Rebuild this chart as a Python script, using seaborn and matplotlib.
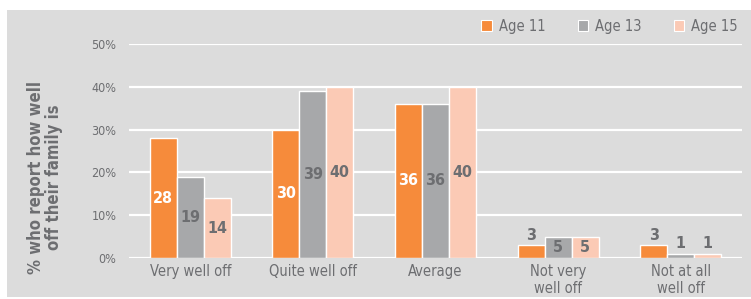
import matplotlib
matplotlib.use("Agg")
import matplotlib.pyplot as plt
import seaborn as sns
import pandas as pd
from matplotlib.patches import Rectangle

categories = ["Very well off", "Quite well off", "Average", "Not very\nwell off", "Not at all\nwell off"]
series_names = ["Age 11", "Age 13", "Age 15"]
age11 = [28, 30, 36, 3, 3]
age13 = [19, 39, 36, 5, 1]
age15 = [14, 40, 40, 5, 1]
yticks = [0, 10, 20, 30, 40, 50]
ytick_labels = ["0%", "10%", "20%", "30%", "40%", "50%"]
colors = ["#F68B3B", "#A7A8AA", "#FBCAB5"]
label_colors = ["white", "#6D6E71", "#6D6E71"]

sns.set_theme(style="white")
plt.rcParams["font.family"] = ["DejaVu Sans"]
plt.rcParams["font.stretch"] = "condensed"

rows = []
for name, vals in zip(series_names, [age11, age13, age15]):
    for c, v in zip(categories, vals):
        rows.append({"category": c, "age": name, "value": v})
df = pd.DataFrame(rows)

fig = plt.figure(figsize=(7.51, 2.99), dpi=100, facecolor="white")
bg = Rectangle((7 / 751, 2 / 299), 1 - 7 / 751, 1 - 12 / 299,
               transform=fig.transFigure, facecolor="#DCDCDC",
               edgecolor="none", zorder=-10)
fig.add_artist(bg)
ax = fig.add_axes([129 / 751, 1 - 258 / 299, (742 - 129) / 751, (258 - 44) / 299])
ax.set_facecolor("none")
ax.set_zorder(1)

sns.barplot(data=df, x="category", y="value", hue="age", order=categories,
            hue_order=series_names, palette=colors, width=0.66, saturation=1,
            edgecolor="white", linewidth=1.0, ax=ax, legend=False, zorder=3)

ax.set_ylim(0, 50)
ax.set_xlim(-0.5, len(categories) - 0.5)
ax.set_yticks(yticks)
ax.set_yticklabels(ytick_labels)
for y in yticks:
    ax.axhline(y, color="white", lw=1.6, zorder=1)
for s in ax.spines.values():
    s.set_visible(False)
ax.tick_params(axis="y", length=0, pad=9, labelsize=9, labelcolor="#6D6E71")
ax.tick_params(axis="x", length=0, pad=4, labelsize=10.5, labelcolor="#6D6E71")
ax.set_xlabel("")
ax.set_ylabel("% who report how well\noff their family is", fontsize=12,
              fontweight="bold", color="#6D6E71", linespacing=1.0,
              va="center", ha="center")
ax.yaxis.set_label_coords((45 - 129) / 613, (258 - 177) / 214)

for container, lc in zip(ax.containers, label_colors):
    for bar in container:
        h = bar.get_height()
        x = bar.get_x() + bar.get_width() / 2
        if h >= 5:
            ax.text(x, h / 2, f"{int(round(h))}", ha="center", va="center",
                    fontsize=11.5, fontweight="bold", color=lc, zorder=5)
        else:
            ax.text(x, h + 0.6, f"{int(round(h))}", ha="center", va="bottom",
                    fontsize=11.5, fontweight="bold", color="#6D6E71", zorder=5)

handles = [Rectangle((0, 0), 1, 1, facecolor=c, edgecolor="white", lw=0.8) for c in colors]
fig.legend(handles, series_names, loc="center right", bbox_to_anchor=(1.0, 1 - 26 / 299),
           ncol=3, frameon=False, fontsize=10.5, labelcolor="#6D6E71",
           handlelength=0.7, handleheight=0.7, handletextpad=0.5, columnspacing=2.2)

fig.savefig("out.png", dpi=100, facecolor="white")
